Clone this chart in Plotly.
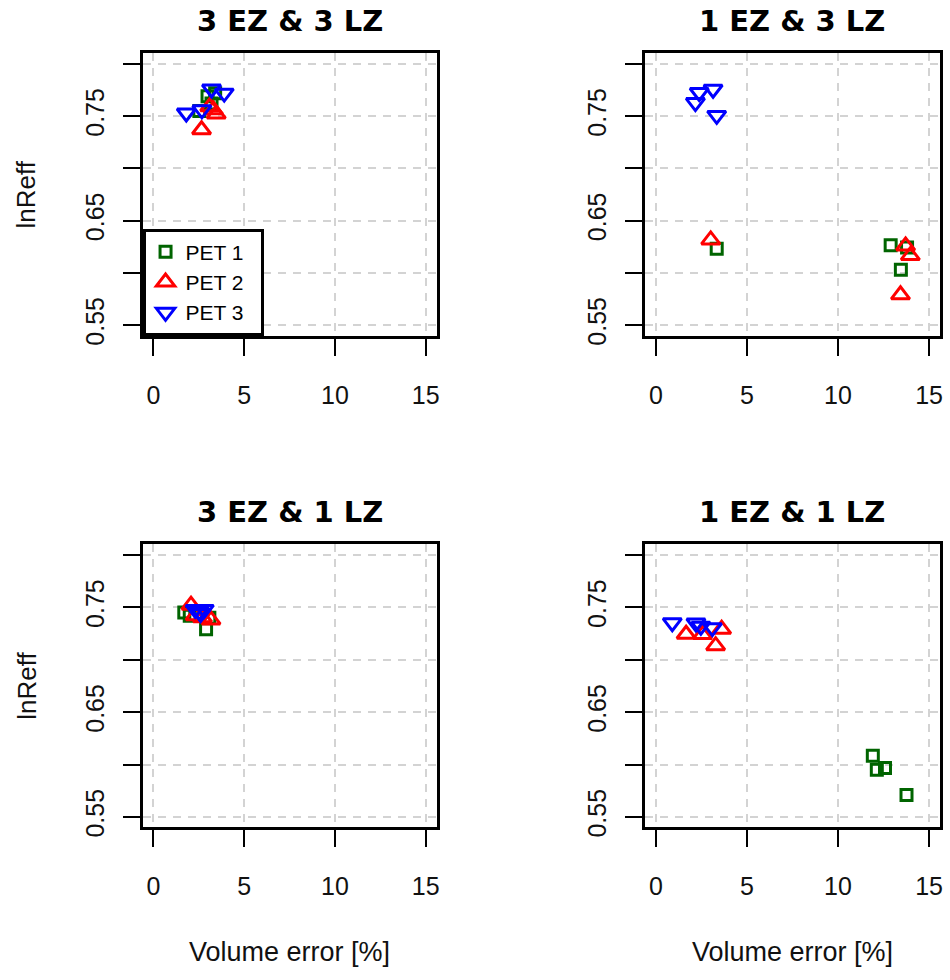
import plotly.graph_objects as go

# ---------------- data ----------------
panel_titles = ["3 EZ & 3 LZ", "1 EZ & 3 LZ", "3 EZ & 1 LZ", "1 EZ & 1 LZ"]
series_names = ["PET 1", "PET 2", "PET 3"]

# panel 1: 3 EZ & 3 LZ
p1_pet1_x = [2.98, 2.53, 3.20, 3.40]
p1_pet1_y = [0.769, 0.755, 0.762, 0.772]
p1_pet2_x = [3.46, 2.65, 3.30, 3.10]
p1_pet2_y = [0.752, 0.737, 0.756, 0.759]
p1_pet3_x = [3.20, 3.90, 1.81, 2.67]
p1_pet3_y = [0.776, 0.772, 0.753, 0.756]

# panel 2: 1 EZ & 3 LZ
p2_pet1_x = [3.34, 12.89, 13.79, 13.45]
p2_pet1_y = [0.623, 0.6265, 0.6243, 0.603]
p2_pet2_x = [3.01, 13.71, 13.97, 13.43]
p2_pet2_y = [0.6315, 0.6258, 0.6165, 0.579]
p2_pet3_x = [2.38, 3.14, 2.17, 3.34]
p2_pet3_y = [0.7726, 0.7757, 0.763, 0.7507]

# panel 3: 3 EZ & 1 LZ
p3_pet1_x = [1.70, 3.08, 2.90, 2.00]
p3_pet1_y = [0.745, 0.740, 0.729, 0.742]
p3_pet2_x = [2.07, 3.17, 2.30, 2.70]
p3_pet2_y = [0.752, 0.738, 0.742, 0.740]
p3_pet3_x = [2.53, 2.30, 2.80, 2.60]
p3_pet3_y = [0.746, 0.748, 0.748, 0.744]

# panel 4: 1 EZ & 1 LZ
p4_pet1_x = [11.91, 12.13, 12.58, 13.76]
p4_pet1_y = [0.6085, 0.595, 0.5967, 0.571]
p4_pet2_x = [1.66, 3.61, 3.28, 2.56]
p4_pet2_y = [0.7243, 0.729, 0.7134, 0.724]
p4_pet3_x = [0.90, 2.20, 2.47, 3.10]
p4_pet3_y = [0.7353, 0.735, 0.732, 0.7306]

x_ticks = [0, 5, 10, 15]
y_ticks = [0.55, 0.60, 0.65, 0.70, 0.75, 0.80]
y_tick_text = ["0.55", "", "0.65", "", "0.75", ""]
x_label = "Volume error [%]"
y_label = "lnReff"

# ---------------- styling ----------------
colors = ["#006400", "#FF0000", "#0000FF"]
symbols = ["square-open", "triangle-up-open", "triangle-down-open"]
sizes = [11, 16, 16]

W, H = 950, 980
panel_px = [  # left, right, top, bottom (px)
    (143, 438, 54, 339),
    (647, 943, 54, 339),
    (143, 438, 550, 836),
    (647, 943, 550, 836),
]

panel_data = [
    [(p1_pet1_x, p1_pet1_y), (p1_pet2_x, p1_pet2_y), (p1_pet3_x, p1_pet3_y)],
    [(p2_pet1_x, p2_pet1_y), (p2_pet2_x, p2_pet2_y), (p2_pet3_x, p2_pet3_y)],
    [(p3_pet1_x, p3_pet1_y), (p3_pet2_x, p3_pet2_y), (p3_pet3_x, p3_pet3_y)],
    [(p4_pet1_x, p4_pet1_y), (p4_pet2_x, p4_pet2_y), (p4_pet3_x, p4_pet3_y)],
]

FONT = "Liberation Sans, Arial, sans-serif"
fig = go.Figure()

for i, series in enumerate(panel_data):
    ax = "" if i == 0 else str(i + 1)
    for j, (xs, ys) in enumerate(series):
        fig.add_trace(go.Scatter(
            x=xs, y=ys, mode="markers", name=series_names[j] + "  ",
            xaxis="x" + ax, yaxis="y" + ax,
            showlegend=(i == 0),
            marker=dict(symbol=symbols[j], size=sizes[j], color=colors[j],
                        line=dict(width=3, color=colors[j])),
        ))

layout = dict(
    width=W, height=H, margin=dict(l=0, r=0, t=0, b=0),
    paper_bgcolor="white", plot_bgcolor="white",
    font=dict(family=FONT, color="black", size=25),
    legend=dict(x=143 / W, y=1 - 339 / H, xanchor="left", yanchor="bottom",
                bgcolor="white", bordercolor="black", borderwidth=3,
                font=dict(family=FONT, size=21, color="black"),
                tracegroupgap=0, itemwidth=30),
    annotations=[],
)

for i, (l, r, t, b) in enumerate(panel_px):
    ax = "" if i == 0 else str(i + 1)
    common = dict(showline=True, linewidth=3, linecolor="black", mirror=True,
                  ticks="outside", ticklen=17, tickwidth=1.5, tickcolor="black",
                  showgrid=True, gridcolor="#d3d3d3", gridwidth=2, griddash="8px,7px",
                  zeroline=False, tickfont=dict(family=FONT, size=25, color="#111111"))
    layout["xaxis" + ax] = dict(
        domain=[l / W, r / W], range=[-0.6, 15.6], tickvals=x_ticks,
        ticktext=[str(v) for v in x_ticks], anchor="y" + ax,
        ticklabelstandoff=18, **common)
    layout["yaxis" + ax] = dict(
        domain=[1 - b / H, 1 - t / H], range=[0.54, 0.81], tickvals=y_ticks,
        ticktext=y_tick_text, anchor="x" + ax, tickangle=-90,
        ticklabelstandoff=9, **common)
    cx = (l + r) / 2
    layout["annotations"].append(dict(
        text="<b>" + panel_titles[i] + "</b>", x=cx / W, y=1 - (t - 33) / H,
        xref="paper", yref="paper", showarrow=False, xanchor="center", yanchor="middle",
        font=dict(family="DejaVu Sans, sans-serif", size=29, color="black")))
    if l < 400:
        layout["annotations"].append(dict(
            text=y_label, x=27 / W, y=1 - ((t + b) / 2) / H, textangle=-90,
            xref="paper", yref="paper", showarrow=False, xanchor="center", yanchor="middle",
            font=dict(family=FONT, size=26, color="#111111")))
    if t > 400:
        layout["annotations"].append(dict(
            text=x_label, x=cx / W, y=1 - 962 / H,
            xref="paper", yref="paper", showarrow=False, xanchor="center", yanchor="middle",
            font=dict(family=FONT, size=27, color="#111111")))

fig.update_layout(**layout)
fig.write_html("out.html")
